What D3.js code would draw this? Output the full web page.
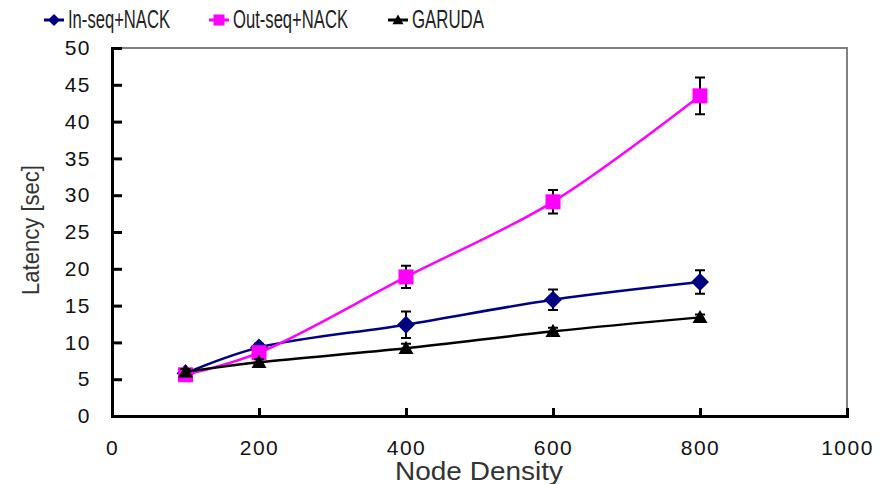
<!DOCTYPE html>
<html>
<head>
<meta charset="utf-8">
<script src="https://cdn.jsdelivr.net/npm/d3@7"></script>
<style>
  body { margin: 0; background: #fff; }
  svg { display: block; font-family: "Liberation Sans", Arial, sans-serif; }
</style>
</head>
<body>
<div id="chart"></div>
<script>
// Node density (x) values
var densities = [100, 200, 400, 600, 800];

// Latency [sec] per series, with error half-widths
var inSeqNack = [5.8, 9.3, 12.4, 15.8, 18.2];
var inSeqErr = [0.3, 0.5, 1.8, 1.4, 1.6];
var outSeqNack = [5.6, 8.6, 18.9, 29.1, 43.5];
var outSeqErr = [0.3, 0.5, 1.5, 1.6, 2.5];
var garuda = [6.0, 7.3, 9.2, 11.5, 13.4];
var garudaErr = [0.4, 0.4, 0.6, 0.5, 0.4];

var xTicks = [0, 200, 400, 600, 800, 1000];
var yTicks = [0, 5, 10, 15, 20, 25, 30, 35, 40, 45, 50];

var series = [
    { name: "In-seq+NACK", values: inSeqNack, err: inSeqErr, color: "#000080", symbol: "diamond", lx: 44, tw: 102 },
    { name: "Out-seq+NACK", values: outSeqNack, err: outSeqErr, color: "#ff00ff", symbol: "square", lx: 209, tw: 115 },
    { name: "GARUDA", values: garuda, err: garudaErr, color: "#000000", symbol: "triangle", lx: 388, tw: 72 }
];

var width = 895, height = 484,
    margin = { left: 112, right: 48, top: 48, bottom: 68 };

var svg = d3.select("#chart").append("svg")
    .attr("width", width)
    .attr("height", height);

var x = d3.scaleLinear().domain([0, 1000]).range([margin.left, width - margin.right]);
var y = d3.scaleLinear().domain([0, 50]).range([height - margin.bottom, margin.top]);

function markerPath(type, r) {
    if (type === "diamond") {
        return "M0," + (-r) + "L" + r + ",0L0," + r + "L" + (-r) + ",0Z";
    }
    if (type === "square") {
        return "M" + (-r) + "," + (-r) + "H" + r + "V" + r + "H" + (-r) + "Z";
    }
    return "M0," + (-r) + "L" + r + "," + (r * 0.75) + "H" + (-r) + "Z";
}

// frame: gray top and right
svg.append("path")
    .attr("d", "M" + x(0) + "," + y(50) + "H" + x(1000) + "V" + y(0))
    .attr("fill", "none")
    .attr("stroke", "#808080")
    .attr("stroke-width", 2);

// axes
var xAxis = svg.append("g")
    .attr("transform", "translate(0," + y(0) + ")")
    .call(d3.axisBottom(x).tickValues(xTicks).tickSize(-8).tickPadding(24).tickFormat(d3.format("d")));
var yAxis = svg.append("g")
    .attr("transform", "translate(" + x(0) + ",0)")
    .call(d3.axisLeft(y).tickValues(yTicks).tickSize(-10).tickPadding(21).tickFormat(d3.format("d")));

[xAxis, yAxis].forEach(function (g) {
    g.select(".domain").attr("stroke", "#000").attr("stroke-width", 3);
    g.selectAll(".tick line").attr("stroke", "#000").attr("stroke-width", 3);
    g.selectAll(".tick text")
        .attr("fill", "#111")
        .style("font-size", "21px")
        .style("letter-spacing", "1.5px");
});
xAxis.selectAll(".tick").filter(function (d) { return d === 0 || d === 1000; }).select("line").remove();
yAxis.selectAll(".tick").filter(function (d) { return d === 0; }).select("line").remove();

// axis titles
svg.append("text")
    .attr("x", 479).attr("y", 480)
    .attr("text-anchor", "middle")
    .attr("fill", "#333")
    .attr("textLength", 168)
    .attr("lengthAdjust", "spacingAndGlyphs")
    .style("font-size", "25px")
    .text("Node Density");

svg.append("text")
    .attr("transform", "translate(39,230) rotate(-90)")
    .attr("text-anchor", "middle")
    .attr("fill", "#333")
    .attr("textLength", 130)
    .attr("lengthAdjust", "spacingAndGlyphs")
    .style("font-size", "23px")
    .text("Latency [sec]");

var line = d3.line()
    .x(function (d, i) { return x(densities[i]); })
    .y(function (d) { return y(d); })
    .curve(d3.curveCatmullRom.alpha(0.5));

series.forEach(function (s) {
    var g = svg.append("g");

    g.append("path")
        .attr("d", line(s.values))
        .attr("fill", "none")
        .attr("stroke", s.color)
        .attr("stroke-width", 2.5);

    // error bars
    s.values.forEach(function (v, i) {
        var cx = x(densities[i]), lo = y(v - s.err[i]), hi = y(v + s.err[i]);
        g.append("path")
            .attr("d", "M" + cx + "," + lo + "V" + hi +
                "M" + (cx - 5) + "," + hi + "H" + (cx + 5) +
                "M" + (cx - 5) + "," + lo + "H" + (cx + 5))
            .attr("fill", "none")
            .attr("stroke", "#000")
            .attr("stroke-width", 2);
    });

    g.selectAll(".marker")
        .data(s.values)
        .enter()
        .append("path")
        .attr("transform", function (d, i) {
            return "translate(" + x(densities[i]) + "," + y(d) + ")";
        })
        .attr("d", markerPath(s.symbol, s.symbol === "diamond" ? 9 : 7.5))
        .attr("fill", s.color);

    // legend
    var lg = svg.append("g").attr("transform", "translate(" + s.lx + ",20)");
    lg.append("line")
        .attr("x1", 0).attr("x2", 20)
        .attr("stroke", s.color)
        .attr("stroke-width", 3);
    lg.append("path")
        .attr("transform", "translate(10,0)")
        .attr("d", markerPath(s.symbol, s.symbol === "diamond" ? 6 : 5.5))
        .attr("fill", s.color);
    lg.append("text")
        .attr("x", 24).attr("y", 8)
        .attr("fill", "#222")
        .attr("textLength", s.tw)
        .attr("lengthAdjust", "spacingAndGlyphs")
        .style("font-size", "25px")
        .text(s.name);
});
</script>
</body>
</html>
